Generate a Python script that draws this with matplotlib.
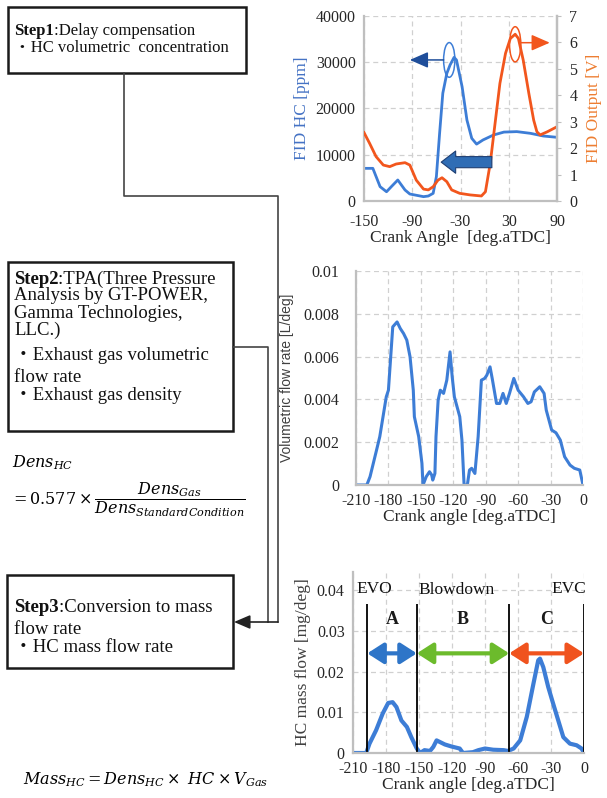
import matplotlib
matplotlib.use('Agg')
import matplotlib.pyplot as plt
from matplotlib.patches import Ellipse, Rectangle

plt.rcParams['font.family'] = ['Liberation Serif', 'Noto Sans CJK JP']
plt.rcParams['mathtext.fontset'] = 'dejavuserif'
plt.rcParams['axes.unicode_minus'] = False

W, H = 607, 798

# --- Step1: FID signal vs crank angle ---
hc_angle = [-150, -139, -130, -122, -116, -108, -99, -93, -76, -70, -64, -60, -56, -52,
            -47, -43, -38, -35, -28, -22, -16, -10, -2, 11, 24, 40, 57, 73, 90]
hc_ppm = [7060, 7060, 3100, 2000, 3100, 4540, 2380, 1510, 940, 1080, 1660, 5260, 14600, 23300,
          27600, 29400, 31060, 30490, 24700, 17500, 13550, 12300, 13200, 14270, 14900, 15000,
          14630, 14050, 13770]

fid_angle = [-150, -143, -135, -126, -118, -110, -99, -93, -85, -76, -70, -64, -58, -53, -47,
             -41, -31, -18, -4, 1, 7, 13, 19, 26, 32, 38, 42, 48, 55, 61, 65, 69, 78, 90]
fid_volt = [2.59, 2.18, 1.68, 1.36, 1.30, 1.40, 1.45, 1.36, 0.79, 0.45, 0.42, 0.54, 0.79, 0.88,
            0.73, 0.42, 0.29, 0.23, 0.19, 0.35, 1.43, 2.94, 4.45, 5.59, 6.15, 6.31, 6.15, 5.33,
            4.07, 3.06, 2.62, 2.50, 2.62, 2.81]

# --- Step2: exhaust gas volumetric flow rate ---
vol_angle = [-210, -200, -197, -191, -188, -185, -182, -180, -176, -172, -169, -166, -163, -160,
             -157, -156, -152, -149, -148, -145, -142, -140, -139, -137, -136, -134, -132, -129,
             -126, -123, -121, -119, -114, -112, -110, -107, -105, -103, -100, -97, -94, -91,
             -89, -86, -84, -80, -77, -74, -71, -68, -64, -60, -55, -51, -48, -45, -40, -36,
             -34, -29, -25, -21, -17, -12, -8, -3, 0]
vol_rate = [0, 0, 0.00039, 0.00163, 0.00226, 0.00319, 0.00412, 0.00443, 0.00739, 0.00762,
            0.00731, 0.00708, 0.00677, 0.00599, 0.00443, 0.00319, 0.00226, 0.00101, 0, 0.00039,
            0.00062, 0.00047, 0.00023, 0.00054, 0.00226, 0.00397, 0.00443, 0.00428, 0.0049,
            0.00622, 0.00505, 0.00412, 0.00319, 0.0021, 0, 0, 0.0007, 0.00078, 0.00054, 0.00226,
            0.0049, 0.00498, 0.00513, 0.00552, 0.00498, 0.00381, 0.00381, 0.00428, 0.00381,
            0.00428, 0.00498, 0.00443, 0.00412, 0.00381, 0.00389, 0.00435, 0.00459, 0.00428,
            0.0035, 0.00257, 0.00244, 0.0021, 0.00132, 0.00093, 0.00078, 0.0007, 0]

# --- Step3: HC mass flow rate ---
mass_angle = [-210, -198, -195, -189, -183, -178, -174, -170.5, -166, -161, -157, -152, -149,
              -145, -140, -137, -134, -131, -126.5, -120.5, -113, -110, -101, -96, -90, -82.5,
              -73, -69, -64, -58, -52, -46, -41.6, -40, -37, -32.5, -28, -23.4, -18.8, -12.8,
              -6.7, -2.2, 0]
mass_flow = [0, 0, 0.0023, 0.0056, 0.0097, 0.0123, 0.0125, 0.0113, 0.008, 0.0064, 0.0039,
             0.0011, 0, 0.0007, 0.0005, 0.0015, 0.0031, 0.0027, 0.0021, 0.0016, 0.0011, 0, 0.0002,
             0.0007, 0.0011, 0.0008, 0.0007, 0.0005, 0.0011, 0.0031, 0.0089, 0.017, 0.0228,
             0.0232, 0.0211, 0.0162, 0.0121, 0.008, 0.0039, 0.0023, 0.0019, 0.0011, 0]

# EVO, end of blowdown, scavenging, EVC
phase_edges = [-197, -152, -68, 0]
phase_names = ['A', 'B', 'C']
phase_colors = ['#2E75C8', '#6CBB2C', '#F0531E']

BLUE = '#3D7DD6'
ORANGE = '#F2561D'
GRID = '#D0D0D0'
SPINE = '#BFBFBF'
TXT = '#262626'


def px_axes(fig, l, t, r, b):
    return fig.add_axes([l / W, 1 - b / H, (r - l) / W, (b - t) / H])


def style(ax, sides=('left', 'bottom')):
    for s in ax.spines:
        ax.spines[s].set_visible(s in sides)
        ax.spines[s].set_color(SPINE)
        ax.spines[s].set_linewidth(1.6)
    ax.grid(True, color=GRID, linestyle=(0, (4, 3)), linewidth=0.9)
    ax.set_axisbelow(True)
    ax.tick_params(length=0, labelsize=11.5, labelcolor=TXT)


def fmt(v):
    return '0' if v == 0 else f'{v:g}'


fig = plt.figure(figsize=(W / 100, H / 100), dpi=100)

# ---------- flow diagram on the left ----------
axd = fig.add_axes([0, 0, 1, 1])
axd.set_xlim(0, W)
axd.set_ylim(H, 0)
axd.axis('off')

for (x0, y0, x1, y1) in [(8, 7, 246, 73), (8, 262, 233, 431), (7, 575, 233, 668)]:
    axd.add_patch(Rectangle((x0, y0), x1 - x0, y1 - y0, fill=False, ec='#1A1A1A', lw=1.8))

lc = '#444444'
axd.plot([124, 124, 278, 278], [73, 196, 196, 622], color=lc, lw=1.2)
axd.plot([233, 268, 268], [347, 347, 622], color=lc, lw=1.2)
axd.annotate('', xy=(234, 622), xytext=(278, 622),
             arrowprops=dict(arrowstyle='-|>,head_length=0.7,head_width=0.3', color='#222222',
                             lw=1.2, shrinkA=0, shrinkB=0, mutation_scale=14))


def step_line(y, bold, rest, size):
    t = axd.text(14, y, bold, fontsize=size, fontweight='bold', va='center', ha='left', color='#111111')
    axd.annotate(rest, xy=(1, 0), xycoords=t, va='bottom', ha='left', fontsize=size, color='#111111')


def plain_line(x, y, s, size):
    axd.text(x, y, s, fontsize=size, va='center', ha='left', color='#111111')


step_line(31, 'Step1', ':Delay compensation', 12)
plain_line(14, 48, '・HC volumetric  concentration', 12)

s2 = 13.5
step_line(279, 'Step2', ':TPA(Three Pressure', s2)
plain_line(14, 296, 'Analysis by GT-POWER,', s2)
plain_line(14, 313, 'Gamma Technologies,', s2)
plain_line(14, 330, 'LLC.)', s2)
plain_line(14, 356, '・Exhaust gas volumetric', s2)
plain_line(14, 377, 'flow rate', s2)
plain_line(14, 395, '・Exhaust gas density', s2)

step_line(607, 'Step3', ':Conversion to mass', s2)
plain_line(14, 629, 'flow rate', s2)
plain_line(14, 647, '・HC mass flow rate', s2)

axd.text(12, 463, r'$Dens_{HC}$', fontsize=11.5, va='center', ha='left')
axd.text(10, 500, r'$=0.577\times\dfrac{Dens_{Gas}}{Dens_{StandardCondition}}$',
         fontsize=11.5, va='center', ha='left')
axd.text(23, 780, r'$Mass_{HC}=Dens_{HC}\times\ HC\times V_{Gas}$',
         fontsize=11.5, va='center', ha='left')

# ---------- Step1 chart: FID HC and FID output ----------
ax1 = px_axes(fig, 364, 16, 557, 201)
style(ax1, sides=('left', 'bottom', 'right'))
ax1.plot(hc_angle, hc_ppm, color=BLUE, lw=2)
ax1.set_xlim(-150, 90)
ax1.set_ylim(0, 40000)
ax1.set_xticks(range(-150, 91, 60))
ax1.set_yticks(range(0, 40001, 10000))
ax1.tick_params(axis='y', pad=6)
ax1.tick_params(axis='x', pad=9)
ax1.set_xlabel('Crank Angle  [deg.aTDC]', fontsize=12.5, color=TXT, labelpad=0)
ax1.set_ylabel('FID HC [ppm]', fontsize=12.5, color='#4472C4', labelpad=4)

ax2 = ax1.twinx()
for s in ax2.spines:
    ax2.spines[s].set_visible(s == 'right')
ax2.spines['right'].set_color(SPINE)
ax2.spines['right'].set_linewidth(1.6)
ax2.plot(fid_angle, fid_volt, color=ORANGE, lw=2)
ax2.set_ylim(0, 7)
ax2.set_yticks(range(0, 8))
ax2.tick_params(length=3, color=SPINE, labelsize=11.5, labelcolor=TXT, pad=6)
ax2.set_ylabel('FID Output [V]', fontsize=12.5, color='#ED7D31', labelpad=6)

# peak markers and shift arrows
ax1.add_patch(Ellipse((-44, 30500), 14, 7500, fill=False, ec=BLUE, lw=1.1))
ax1.annotate('', xy=(-93, 30500), xytext=(-51, 30500),
             arrowprops=dict(arrowstyle='-|>,head_length=0.8,head_width=0.35', color='#1F4E9A',
                             lw=1.1, shrinkA=0, shrinkB=0, mutation_scale=14))
ax2.add_patch(Ellipse((38, 5.93), 14, 1.33, fill=False, ec=ORANGE, lw=1.1))
ax2.annotate('', xy=(81, 5.99), xytext=(45, 5.99),
             arrowprops=dict(arrowstyle='-|>,head_length=0.8,head_width=0.35', color=ORANGE,
                             lw=1.1, shrinkA=0, shrinkB=0, mutation_scale=14))
ax2.annotate('', xy=(-54, 8400), xycoords=ax1.transData, xytext=(9, 8400),
             textcoords=ax1.transData,
             arrowprops=dict(arrowstyle='simple,head_length=1.3,head_width=2.0,tail_width=1.0',
                             mutation_scale=8, fc='#2F6DB5', ec='#1F3F73', lw=0.8,
                             shrinkA=0, shrinkB=0))

# ---------- Step2 chart: volumetric flow rate ----------
ax3 = px_axes(fig, 356, 271, 583, 485)
style(ax3)
ax3.plot(vol_angle, vol_rate, color=BLUE, lw=2.2)
ax3.set_xlim(-210, 0)
ax3.set_ylim(0, 0.01)
ax3.set_xticks(range(-210, 1, 30))
ax3.set_yticks([0, 0.002, 0.004, 0.006, 0.008, 0.01])
ax3.set_yticklabels([fmt(v) for v in ax3.get_yticks()])
ax3.tick_params(axis='y', pad=12)
ax3.tick_params(axis='x', pad=6)
ax3.set_xlabel('Crank angle [deg.aTDC]', fontsize=12.5, color=TXT, labelpad=0)
ax3.set_ylabel('Volumetric flow rate [L/deg]', fontsize=10, color='#404040', labelpad=7,
               family='Liberation Sans')

# ---------- Step3 chart: HC mass flow ----------
ax4 = px_axes(fig, 353, 572, 584, 753)
style(ax4)
ax4.plot(mass_angle, mass_flow, color=BLUE, lw=3, solid_capstyle='round')
ax4.set_xlim(-210, 0)
ax4.set_ylim(0, 0.0445)
ax4.set_xticks(range(-210, 1, 30))
ax4.set_yticks([0, 0.01, 0.02, 0.03, 0.04])
ax4.set_yticklabels([fmt(v) for v in ax4.get_yticks()])
ax4.tick_params(axis='y', pad=6)
ax4.tick_params(axis='x', pad=6)
ax4.set_xlabel('Crank angle [deg.aTDC]', fontsize=12.5, color=TXT, labelpad=0)
ax4.set_ylabel('HC mass flow [mg/deg]', fontsize=12.5, color='#404040', labelpad=4)

ax4.vlines(phase_edges, 0, 0.0366, color='black', lw=1.3)
for x0, x1, name, c in zip(phase_edges[:-1], phase_edges[1:], phase_names, phase_colors):
    ax4.annotate('', xy=(x1, 0.0245), xytext=(x0, 0.0245),
                 arrowprops=dict(arrowstyle='<|-|>,head_length=0.7,head_width=0.45', color=c,
                                 lw=3, shrinkA=0, shrinkB=0, mutation_scale=14))
    ax4.text((x0 + x1) / 2, 0.0327, name, ha='center', va='center', fontsize=13,
             fontweight='bold', color='#1A1A1A')
ax4.text(-207, 0.0402, 'EVO', ha='left', va='center', fontsize=12.5, color='#111111')
ax4.text(-116, 0.0400, 'Blowdown', ha='center', va='center', fontsize=12.5, color='#111111')
ax4.text(2, 0.0402, 'EVC', ha='right', va='center', fontsize=12.5, color='#111111')

fig.savefig('out.png', dpi=100)
